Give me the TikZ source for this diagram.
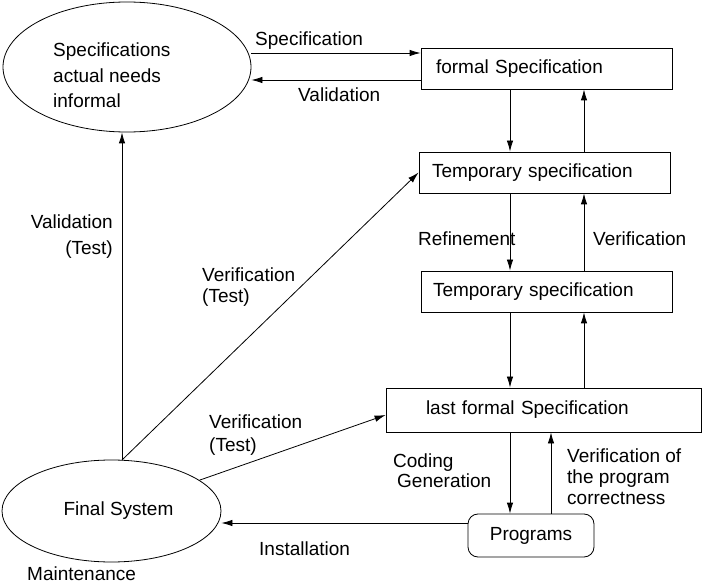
\documentclass[tikz,border=0pt]{standalone}
\usepackage{fontspec}
\setmainfont{Liberation Sans}
\usetikzlibrary{shapes.geometric,arrows.meta}
\begin{document}
\begin{tikzpicture}[x=1pt,y=-1pt]
    \tikzstyle{every node}=[font=\fontsize{19}{21}\selectfont, inner sep=0pt]
    \tikzstyle{box}=[draw, rectangle, line width=0.8pt, minimum height=41pt, align=left]
    \tikzstyle{blob}=[draw, ellipse, line width=0.8pt]
    \tikzstyle{lbl}=[anchor=north west, align=left]
    \tikzstyle{edge}=[line width=0.8pt, -{Latex[length=11pt,width=6.5pt]}]

    \useasboundingbox (0,0) rectangle (702,585);

    % nodes
    \node[blob, minimum width=248pt, minimum height=130pt] (spec) at (127,67) {};
    \node[lbl, font=\fontsize{19}{25.5}\selectfont] (spectext) at (53,43) {Specifications\\actual needs\\informal};
    \node[box, inner xsep=15pt, text width=221pt] (formal) at (546.5,68.5) {formal Specification};
    \node[box, inner xsep=13pt, text width=225pt] (temp1) at (544.5,172.5) {Temporary specification};
    \node[box, inner xsep=12pt, text width=227pt] (temp2) at (546.5,291.5) {Temporary specification};
    \node[box, inner xsep=40pt, text width=235pt, minimum height=44pt] (last) at (543.5,410) {last formal Specification};
    \node[draw, line width=0.8pt, rounded corners=10pt, minimum width=126pt, minimum height=43pt] (prog) at (531,535.5) {Programs};
    \node[blob, minimum width=219pt, minimum height=102pt] (final) at (111.5,511) {\hspace*{14pt}Final System};

    \coordinate (dn) at (510,0);
    \coordinate (up) at (584,0);
    \coordinate (upp) at (551,0);
    \coordinate (hub) at (122,460);

    % refinement chain
    \draw[edge] (formal.south -| dn) -- (temp1.north -| dn);
    \draw[edge] (temp1.north -| up) -- (formal.south -| up);
    \draw[edge] (temp1.south -| dn) -- (temp2.north -| dn);
    \draw[edge] (temp2.north -| up) -- (temp1.south -| up);
    \draw[edge] (temp2.south -| dn) -- (last.north -| dn);
    \draw[edge] (last.north -| up) -- (temp2.south -| up);
    \draw[edge] (last.south -| dn) -- (prog.north -| dn);
    \draw[edge] (prog.north -| upp) -- (last.south -| upp);

    % specification / validation
    \coordinate (specin) at ([yshift=15.5pt]formal.west);
    \coordinate (valout) at ([yshift=-11.5pt]formal.west);
    \draw[edge] (spec.east |- specin) -- (specin);
    \draw[edge] (valout) -- (spec.east |- valout);

    % installation and tests
    \coordinate (instout) at ([yshift=12.5pt]prog.west);
    \draw[edge] (instout) -- (final.east |- instout);
    \draw[edge] (hub) -- (hub |- spec.south);
    \draw[edge] (hub) -- (temp1.west);
    \draw[edge] (final) -- ([yshift=-5pt]last.west);

    % labels
    \node[lbl] (specarr) at (255,32) {Specification};
    \node[lbl] (valarr) at (298,88) {Validation};
    \node[lbl, anchor=north east, align=right, font=\fontsize{19}{25.5}\selectfont] (valtest) at (113,215) {Validation\\(Test)};
    \node[lbl, font=\fontsize{19}{20.5}\selectfont] (vertest) at (202,268) {Verification\\(Test)};
    \node[lbl] (refine) at (418,232) {Refinement};
    \node[lbl] (verify) at (593,232) {Verification};
    \node[lbl, font=\fontsize{19}{22.5}\selectfont] (vertestb) at (209,415) {Verification\\(Test)};
    \node[lbl, font=\fontsize{19}{20}\selectfont] (coding) at (393,454) {Coding\\\hspace*{4pt}Generation};
    \node[lbl, font=\fontsize{19}{21}\selectfont] (vercorr) at (567,449) {Verification of\\the program\\correctness};
    \node[lbl] (install) at (259,542) {Installation};
    \node[lbl] (maint) at (27,567) {Maintenance};
\end{tikzpicture}
\end{document}
